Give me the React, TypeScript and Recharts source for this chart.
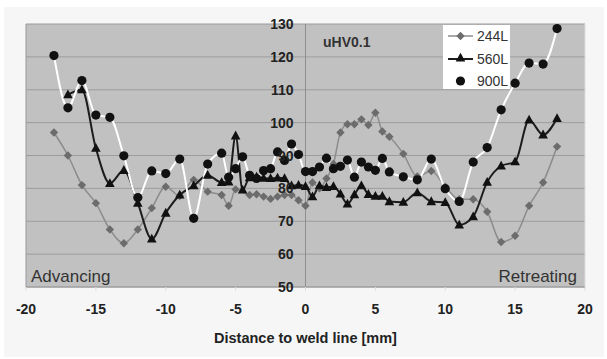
import { LineChart, Line, XAxis, YAxis, CartesianGrid, ReferenceLine, Legend } from "recharts";

const W = 607;
const H = 359;
const PLOT_LEFT = 26;
const PLOT_RIGHT = 585;
const CENTER_X = (PLOT_LEFT + PLOT_RIGHT) / 2;
const FONT = '"Liberation Sans", Arial, sans-serif';

const xTicks = [-20, -15, -10, -5, 0, 5, 10, 15, 20];
const yTicks = [50, 60, 70, 80, 90, 100, 110, 120, 130];

// 244L
const x244 = [-18, -17, -16, -15, -14, -13, -12, -11, -10, -9, -8, -7, -6, -5.5, -5, -4, -3.5, -3, -2.5, -2, -1.5, -1, -0.5, 0, 0.5, 1, 1.5, 2, 2.5, 3, 3.5, 4, 4.5, 5, 5.5, 6, 7, 8, 9, 10, 11, 12, 13, 14, 15, 16, 17, 18];
const v244 = [97, 90, 81, 75.5, 67.5, 63.3, 67.5, 74, 80.5, 77.7, 82.6, 79, 78, 74.7, 79.7, 78, 78.2, 77.5, 76.8, 77.5, 78, 78, 76.4, 74.7, 81.8, 80, 83, 87.4, 97, 99.5, 99.5, 101, 99.3, 103, 97.3, 95.7, 90.5, 83.6, 85.3, 80.5, 76.7, 76.7, 72.9, 63.7, 65.6, 74.7, 81.8, 92.7];

// 560L
const x560 = [-17, -16, -15, -14, -13, -12, -11, -10, -9, -8, -7, -6, -5.5, -5, -4.5, -4, -3.5, -3, -2.5, -2, -1.5, -1, -0.5, 0, 0.5, 1, 1.5, 2, 2.5, 3, 3.5, 4, 4.5, 5, 5.5, 6, 7, 8, 9, 10, 11, 12, 13, 14, 15, 16, 17, 18];
const v560 = [108.5, 110, 92.2, 81.5, 85.5, 75.5, 64.6, 72.5, 78, 80.8, 84, 81.8, 82, 96, 79.5, 83.3, 83.5, 83.1, 83, 83.2, 83, 80.8, 81, 80.6, 77.5, 80.8, 80.3, 80.6, 78.3, 75.3, 78.1, 80.8, 78.2, 77.6, 77.6, 76, 75.8, 78.7, 76, 75.7, 68.9, 71.4, 81.9, 86.8, 88.1, 100.8, 96.3, 101.3];

// 900L
const x900 = [-18, -17, -16, -15, -14, -13, -12, -11, -10, -9, -8, -7, -6, -5.5, -5, -4.5, -4, -3.5, -3, -2.5, -2, -1.5, -1, -0.5, 0, 0.5, 1, 1.5, 2, 2.5, 3, 3.5, 4, 4.5, 5, 5.5, 6, 7, 8, 9, 10, 11, 12, 13, 14, 15, 16, 17, 18];
const v900 = [120.4, 104.5, 112.8, 102.3, 101.6, 89.9, 77.2, 85.3, 84.5, 88.9, 70.9, 87.4, 90.7, 83.4, 86, 89.6, 84, 83, 85.4, 86, 91.1, 88.5, 93.5, 90.3, 85.1, 85.1, 86.5, 89.2, 86, 86.7, 88.6, 83.4, 88, 86.5, 85.5, 89.1, 85, 83.5, 82.6, 88.9, 79.9, 76, 88, 92.4, 103.9, 112, 118.1, 117.8, 128.6];

const toPoints = (xs: number[], ys: number[]) => xs.map((x, i) => ({ x, y: ys[i] }));

const diamond = (cx: number, cy: number, r = 4.2) =>
  `${cx},${cy - r} ${cx + r},${cy} ${cx},${cy + r} ${cx - r},${cy}`;
const triangle = (cx: number, cy: number) =>
  `${cx},${cy - 5.2} ${cx + 4.8},${cy + 3.6} ${cx - 4.8},${cy + 3.6}`;

const DiamondDot = (p: any) => (
  <polygon key={`d-${p.index}`} points={diamond(p.cx, p.cy)} fill="#6c6c6c" />
);
const TriangleDot = (p: any) => (
  <polygon key={`t-${p.index}`} points={triangle(p.cx, p.cy)} fill="#111" />
);
const CircleDot = (p: any) => (
  <circle key={`c-${p.index}`} cx={p.cx} cy={p.cy} r={4.6} fill="#111" />
);

// y labels sit beside the vertical axis drawn at x = 0
const renderYTick = (p: any) => (
  <text
    key={`yt-${p.payload.value}`}
    x={CENTER_X - 12}
    y={p.y}
    dy="0.36em"
    textAnchor="end"
    fontFamily={FONT}
    fontSize={14}
    fontWeight="bold"
    fill="#222"
  >
    {p.payload.value}
  </text>
);

const LegendBox = () => (
  <svg width={67} height={64} style={{ display: "block", background: "#fff" }}>
    <line x1={5} y1={11} x2={30} y2={11} stroke="#8c8c8c" strokeWidth={1.5} />
    <polygon points={diamond(17.5, 11)} fill="#6c6c6c" />
    <text x={34} y={16} fontFamily={FONT} fontSize={14} fill="#333">244L</text>
    <line x1={5} y1={34} x2={30} y2={34} stroke="#1c1c1c" strokeWidth={2} />
    <polygon points={triangle(17.5, 33)} fill="#111" />
    <text x={34} y={39} fontFamily={FONT} fontSize={14} fill="#333">560L</text>
    <circle cx={17.5} cy={56} r={4.6} fill="#111" />
    <text x={34} y={61} fontFamily={FONT} fontSize={14} fill="#333">900L</text>
  </svg>
);

export default function App() {
  return (
    <div style={{ position: "absolute", left: 0, top: 0, width: W, height: H, background: "#fff" }}>
      <div style={{ position: "absolute", left: 4, top: 7, width: 600, height: 350, background: "#f6f6f6" }} />
      <div style={{ position: "absolute", left: 0, top: 0 }}>
        <LineChart width={W} height={H} margin={{ top: 24, right: 22, left: 25, bottom: 12 }}>
          <CartesianGrid vertical={false} stroke="#9c9c9c" fill="#c1c1c1" />
          <XAxis
            dataKey="x"
            type="number"
            domain={[-20, 20]}
            ticks={xTicks}
            allowDuplicatedCategory={false}
            height={60}
            axisLine={{ stroke: "#9c9c9c" }}
            tickLine={{ stroke: "#dedede" }}
            tickSize={4}
            tickMargin={13}
            tick={{ fontFamily: FONT, fontSize: 14, fontWeight: "bold", fill: "#222" }}
            label={{
              value: "Distance to weld line [mm]",
              position: "insideBottom",
              offset: 4,
              style: { fontFamily: FONT, fontSize: 14.5, fontWeight: "bold", fill: "#222" },
            }}
          />
          <YAxis
            type="number"
            domain={[50, 130]}
            ticks={yTicks}
            width={1}
            axisLine={false}
            tickLine={false}
            tick={renderYTick}
          />
          <ReferenceLine x={-20} stroke="#9a9a9a" />
          <ReferenceLine x={20} stroke="#dcdcdc" />
          <ReferenceLine x={0} stroke="#8e8e8e" />
          <Line
            data={toPoints(x244, v244)}
            dataKey="y"
            name="244L"
            type="monotone"
            stroke="#8c8c8c"
            strokeWidth={1.5}
            dot={DiamondDot}
            activeDot={false}
            isAnimationActive={false}
          />
          <Line
            data={toPoints(x560, v560)}
            dataKey="y"
            name="560L"
            type="monotone"
            stroke="#1c1c1c"
            strokeWidth={2}
            dot={TriangleDot}
            activeDot={false}
            isAnimationActive={false}
          />
          <Line
            data={toPoints(x900, v900)}
            dataKey="y"
            name="900L"
            type="monotone"
            stroke="#ffffff"
            strokeWidth={2}
            dot={CircleDot}
            activeDot={false}
            isAnimationActive={false}
          />
          <Legend
            layout="vertical"
            align="center"
            verticalAlign="middle"
            content={<LegendBox />}
            wrapperStyle={{ left: 443, top: 25, width: 67, height: 64 }}
          />
        </LineChart>
      </div>
      <svg width={W} height={H} style={{ position: "absolute", left: 0, top: 0, pointerEvents: "none" }}>
        <text x={323} y={47} fontFamily={FONT} fontSize={14} fontWeight="bold" fill="#333">uHV0.1</text>
        <text x={31} y={282} fontFamily={FONT} fontSize={17} fill="#333">Advancing</text>
        <text x={577} y={282} textAnchor="end" fontFamily={FONT} fontSize={17} fill="#333">Retreating</text>
      </svg>
    </div>
  );
}
